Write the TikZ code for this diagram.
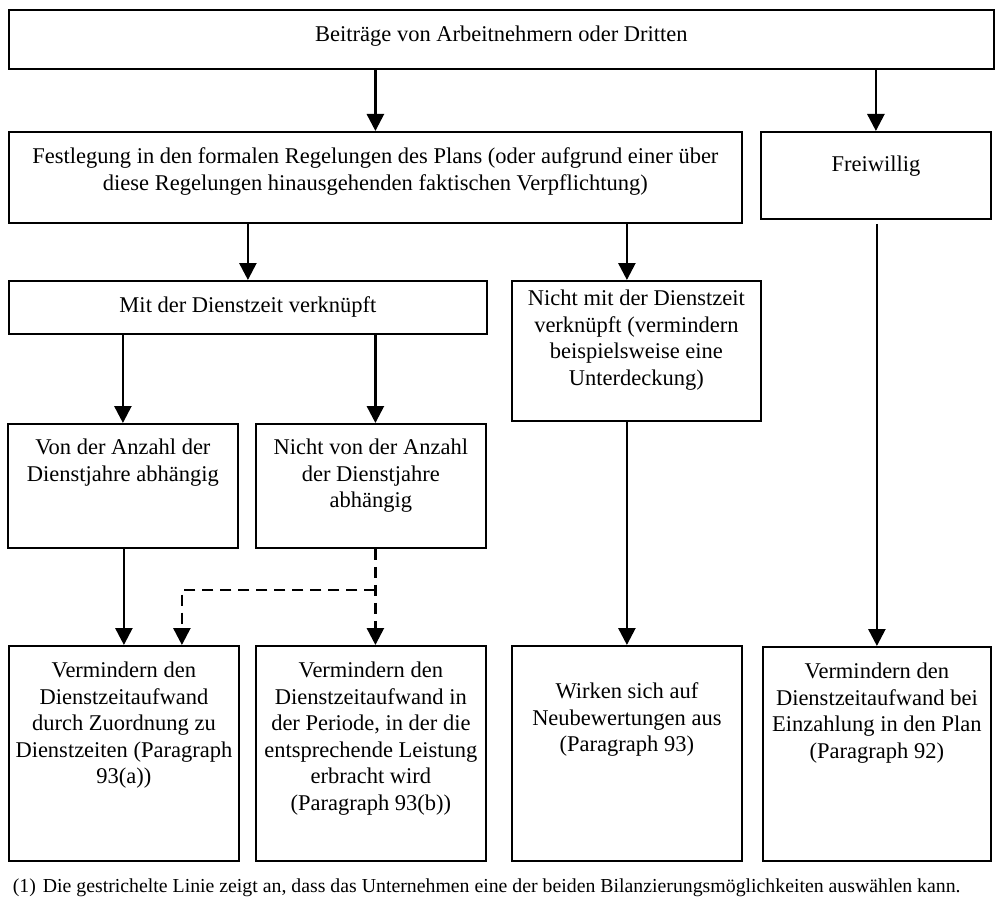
\documentclass[tikz,border=0pt]{standalone}
\usepackage{fontspec}
\setmainfont{Liberation Serif}
\usetikzlibrary{arrows.meta,calc}

% box text: width, height, first baseline, lines
\newcommand{\boxtext}[4]{\parbox[t][#2][t]{#1}{\centering\rule{0pt}{#3}#4\par}}

\begin{document}
\begin{tikzpicture}[
  x=1pt, y=-1pt,
  every node/.style={draw, line width=1.8pt, inner sep=0pt, anchor=north west, font=\fontsize{22.5pt}{26.5pt}\selectfont},
  note/.style={draw=none, anchor=base west, font=\fontsize{19.8pt}{24pt}\selectfont},
  link/.style={->, line width=2.6pt},
  choice/.style={link, dash pattern=on 11pt off 7pt},
  >={Triangle[width=17pt,length=17pt]}
]
\useasboundingbox (0,0) rectangle (997,907);

\node (beitraege)  at (8,9)     {\boxtext{985pt}{59pt}{32pt}{Beiträge von Arbeitnehmern oder Dritten}};
\node (festlegung) at (8,131)   {\boxtext{733pt}{91pt}{32pt}{Festlegung in den formalen Regelungen des Plans (oder aufgrund einer über\\ diese Regelungen hinausgehenden faktischen Verpflichtung)}};
\node (freiwillig) at (760,131) {\boxtext{230pt}{87pt}{40pt}{Freiwillig}};

\node (mit)        at (8,280)   {\boxtext{478pt}{53pt}{32pt}{Mit der Dienstzeit verknüpft}};
\node (nichtmit)   at (511,280) {\boxtext{249pt}{140pt}{25pt}{Nicht mit der Dienstzeit\\ verknüpft (vermindern\\ beispielsweise eine\\ Unterdeckung)}};

\node (vonanzahl)  at (7,423)   {\boxtext{230pt}{124pt}{31pt}{Von der Anzahl der\\ Dienstjahre abhängig}};
\node (nichtvon)   at (255,423) {\boxtext{230pt}{124pt}{31pt}{Nicht von der Anzahl\\ der Dienstjahre\\ abhängig}};

\node (vermA)      at (8,645)   {\boxtext{230pt}{215pt}{32pt}{Vermindern den\\ Dienstzeitaufwand\\ durch Zuordnung zu\\ Dienstzeiten (Paragraph\\ 93(a))}};
\node (vermB)      at (255,645) {\boxtext{230pt}{215pt}{32pt}{Vermindern den\\ Dienstzeitaufwand in\\ der Periode, in der die\\ entsprechende Leistung\\ erbracht wird\\ (Paragraph 93(b))}};
\node (wirken)     at (511,645) {\boxtext{230pt}{215pt}{53pt}{Wirken sich auf\\ Neubewertungen aus\\ (Paragraph 93)}};
\node (vermD)      at (762,646) {\boxtext{228pt}{214pt}{32pt}{Vermindern den\\ Dienstzeitaufwand bei\\ Einzahlung in den Plan\\ (Paragraph 92)}};

\node[note] (fussnote) at (12,892) {\makebox[30pt][l]{(1)}Die gestrichelte Linie zeigt an, dass das Unternehmen eine der beiden Bilanzierungsmöglichkeiten auswählen kann.};

\draw[link] (beitraege.south -| festlegung.north) -- (festlegung.north);
\draw[link] (beitraege.south -| freiwillig.north) -- (freiwillig.north);
\draw[link] (festlegung.south -| mit.north) -- (mit.north);
\draw[link] (festlegung.south -| wirken.north) -- (nichtmit.north -| wirken.north);
\draw[link] (mit.south -| vonanzahl.north) -- (vonanzahl.north);
\draw[link] (mit.south -| festlegung.north) -- (nichtvon.north -| festlegung.north);
\draw[link] (vonanzahl.south -| vermA.north) -- (vermA.north);
\draw[link] (nichtmit.south -| wirken.north) -- (wirken.north);
\draw[link] ([yshift=-4pt]freiwillig.south -| vermD.north) -- (vermD.north);

% optional treatment
\coordinate (split) at ($(nichtvon.south)!0.43!(vermB.north)$);
\draw[choice] (nichtvon.south -| festlegung.north) -- (vermB.north -| festlegung.north);
\draw[choice] (split -| festlegung.north) -| ([xshift=58pt]vermA.north);
\end{tikzpicture}
\end{document}
